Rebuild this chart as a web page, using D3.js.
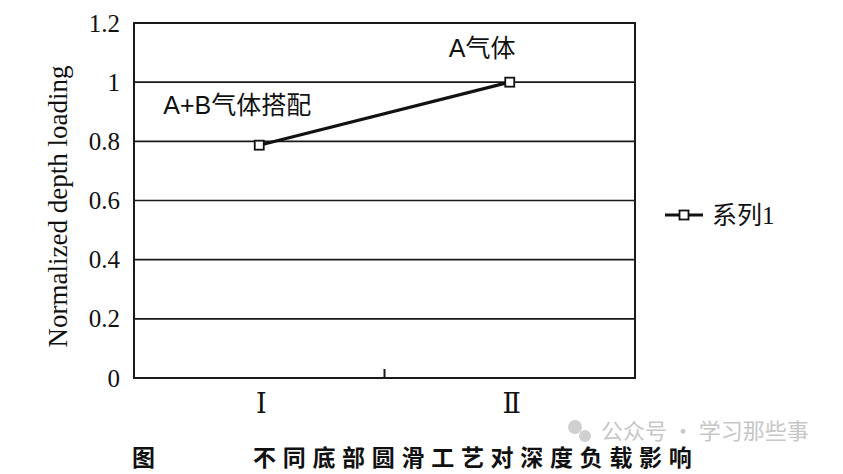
<!DOCTYPE html>
<html>
<head>
<meta charset="utf-8">
<script src="https://cdn.jsdelivr.net/npm/d3@7"></script>
<style>
  body { margin: 0; background: #fff; }
  svg text { fill: #111; }
</style>
</head>
<body>
<div class="chart"></div>
<script>
// data
const categories = ['Ⅰ', 'Ⅱ'];
const values = [0.787, 1.0];
const yTicks = [0, 0.2, 0.4, 0.6, 0.8, 1, 1.2];
const pointNotes = ['A+B气体搭配', 'A气体'];
const seriesName = '系列1';
const caption = ['图', '不同底部圆滑工艺对深度负载影响'];

const width = 843;
const height = 474;
const serif = '"Liberation Serif", "Times New Roman", "Noto Sans CJK SC", serif';
const cjk = '"Liberation Serif", "Noto Sans CJK SC", sans-serif';
const sans = '"Liberation Sans", "Noto Sans CJK SC", sans-serif';

const plotLeft = 134, plotRight = 635, plotTop = 23, plotBottom = 378;

const svg = d3.select('.chart').append('svg').attr('width', width).attr('height', height);

const x = d3.scaleBand().domain(categories).range([plotLeft, plotRight]);
const y = d3.scaleLinear().domain([0, 1.2]).range([plotBottom, plotTop]);

// gridlines
svg.selectAll('line.grid')
    .data(yTicks)
    .enter()
    .append('line')
    .attr('x1', plotLeft)
    .attr('x2', plotRight)
    .attr('y1', d=>y(d))
    .attr('y2', d=>y(d))
    .attr('stroke', '#1a1a1a')
    .attr('stroke-width', 1.7)

// plot frame
svg.append('rect')
    .attr('x', plotLeft).attr('y', plotTop)
    .attr('width', plotRight-plotLeft).attr('height', plotBottom-plotTop)
    .attr('fill', 'none')
    .attr('stroke', '#1a1a1a')
    .attr('stroke-width', 2)

// y axis labels
const yAxis = d3.axisLeft(y).tickValues(yTicks).tickSize(0).tickPadding(14).tickFormat(d3.format('~g'));
svg.append('g')
    .attr('transform', `translate(${plotLeft},0)`)
    .call(yAxis)
    .call(g=>g.select('.domain').remove())
    .selectAll('text')
    .attr('font-family', serif)
    .attr('font-size', 25)
    .attr('fill', '#111')

// x axis: divider tick between categories
svg.append('line')
    .attr('x1', x(categories[1]))
    .attr('x2', x(categories[1]))
    .attr('y1', plotBottom)
    .attr('y2', plotBottom-9)
    .attr('stroke', '#1a1a1a')
    .attr('stroke-width', 2)

svg.selectAll('text.cat')
    .data(categories)
    .enter()
    .append('text')
    .attr('class', 'cat')
    .attr('x', d=>x(d)+x.bandwidth()/2+2)
    .attr('y', 413)
    .attr('text-anchor', 'middle')
    .attr('font-family', '"DejaVu Serif", "Liberation Serif", serif')
    .attr('font-size', 27)
    .text(d=>d)

// y axis title
svg.append('text')
    .attr('transform', `translate(67,${(plotTop+plotBottom)/2+6}) rotate(-90)`)
    .attr('text-anchor', 'middle')
    .attr('font-family', serif)
    .attr('font-size', 27)
    .text('Normalized depth loading')

// series line
const line = d3.line()
    .x((d,i)=>x(categories[i])+x.bandwidth()/2)
    .y(d=>y(d));
svg.append('path')
    .datum(values)
    .attr('d', line)
    .attr('fill', 'none')
    .attr('stroke', '#111')
    .attr('stroke-width', 3.2)

svg.selectAll('rect.pt')
    .data(values)
    .enter()
    .append('rect')
    .attr('class', 'pt')
    .attr('x', (d,i)=>x(categories[i])+x.bandwidth()/2-4.5)
    .attr('y', d=>y(d)-4.5)
    .attr('width', 9)
    .attr('height', 9)
    .attr('fill', '#fff')
    .attr('stroke', '#111')
    .attr('stroke-width', 1.8)

// point notes
const noteOffsets = [[-96, -31], [-61, -25]];
svg.selectAll('text.note')
    .data(pointNotes)
    .enter()
    .append('text')
    .attr('class', 'note')
    .attr('x', (d,i)=>x(categories[i])+x.bandwidth()/2+noteOffsets[i][0])
    .attr('y', (d,i)=>y(values[i])+noteOffsets[i][1])
    .attr('font-family', sans)
    .attr('font-size', 25)
    .text(d=>d)

// legend
const lg = svg.append('g').attr('transform', 'translate(665,215)');
lg.append('line').attr('x1', 0).attr('x2', 38).attr('y1', 0).attr('y2', 0)
    .attr('stroke', '#111').attr('stroke-width', 3)
lg.append('rect').attr('x', 14.5).attr('y', -4.5).attr('width', 9).attr('height', 9)
    .attr('fill', '#fff').attr('stroke', '#111').attr('stroke-width', 1.8)
lg.append('text').attr('x', 47).attr('y', 9)
    .attr('font-family', cjk).attr('font-size', 25)
    .text(seriesName)

// caption
svg.append('text')
    .attr('x', 132).attr('y', 466)
    .attr('font-family', '"Noto Sans CJK SC", sans-serif')
    .attr('font-weight', 'bold')
    .attr('font-size', 23)
    .text(caption[0])
svg.append('text')
    .attr('x', 253).attr('y', 466)
    .attr('font-family', '"Noto Sans CJK SC", sans-serif')
    .attr('font-weight', 'bold')
    .attr('font-size', 23)
    .attr('letter-spacing', 6.7)
    .text(caption[1])

// watermark
const wm = svg.append('g').attr('opacity', 0.55);
wm.append('circle').attr('cx', 575).attr('cy', 427).attr('r', 7).attr('fill', '#aaa')
wm.append('circle').attr('cx', 585).attr('cy', 436).attr('r', 6).attr('fill', '#aaa')
wm.append('text').attr('x', 601).attr('y', 439)
    .attr('font-family', '"Noto Sans CJK SC", sans-serif')
    .attr('font-size', 22)
    .style('fill', '#999')
    .text('公众号 · 学习那些事')
</script>
</body>
</html>
